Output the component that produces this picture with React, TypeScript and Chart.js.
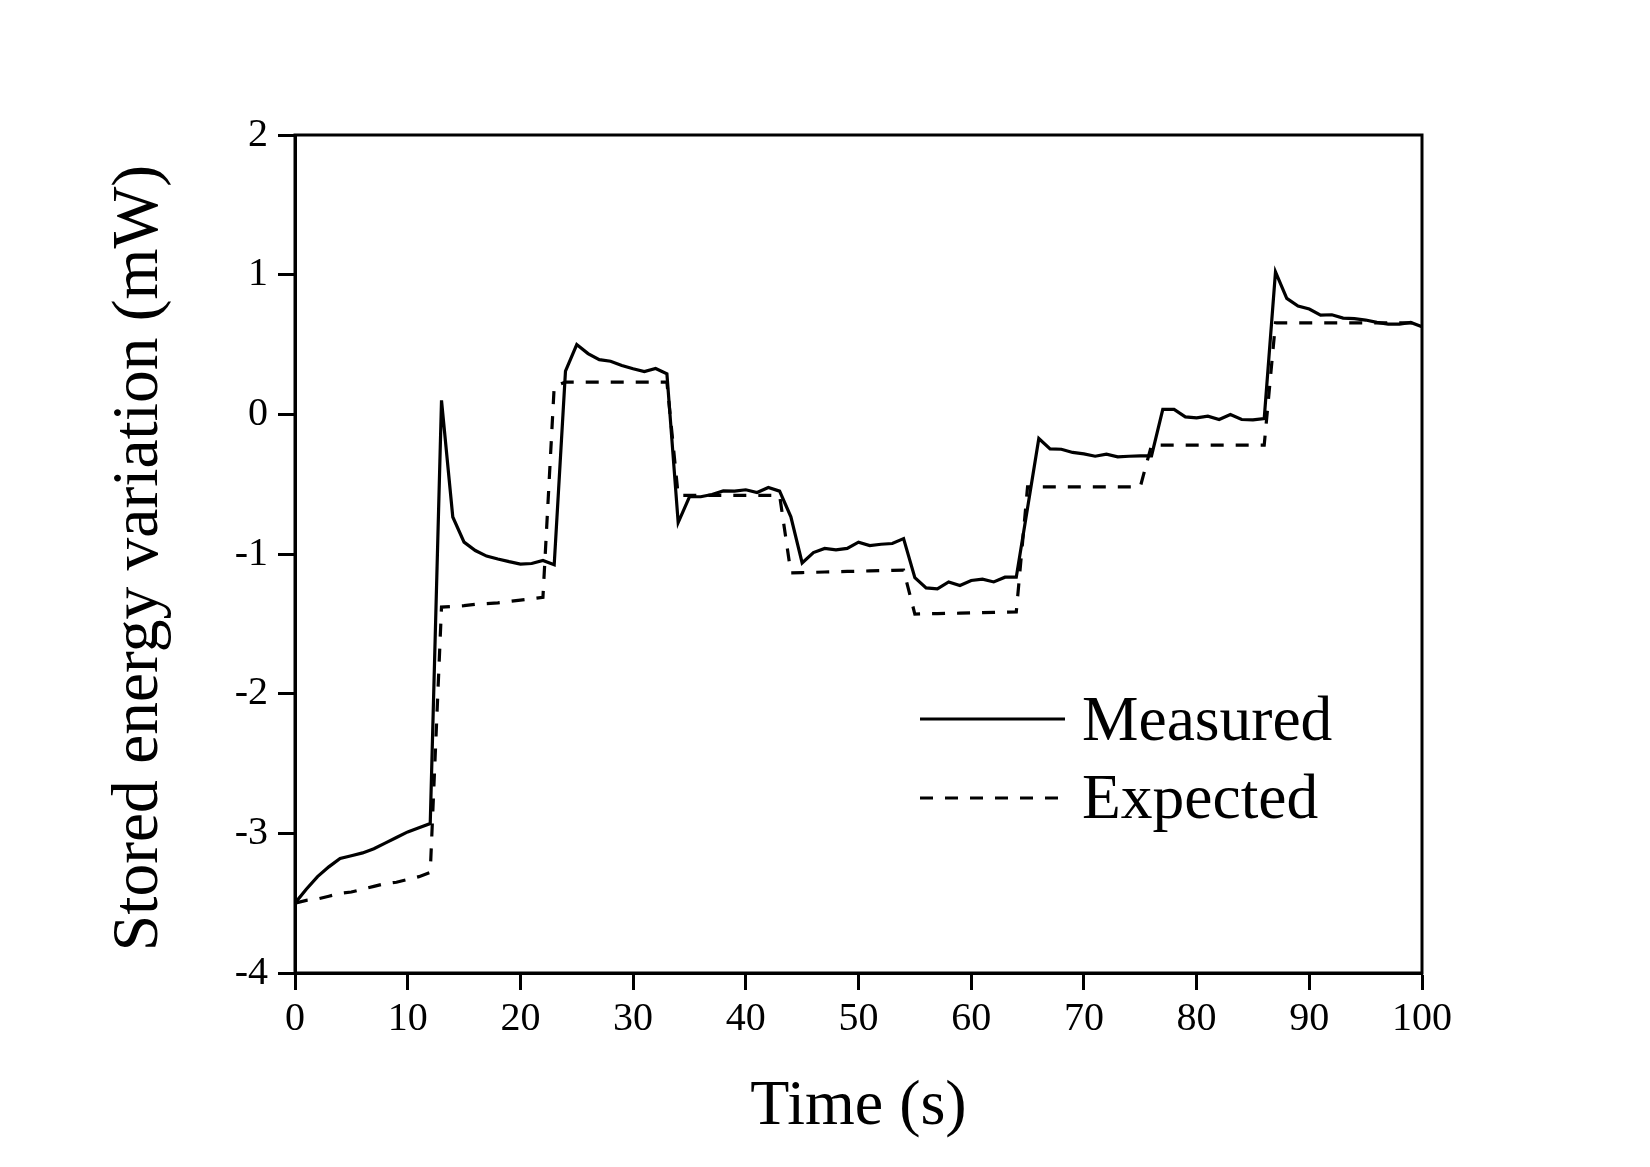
import React, { useEffect, useRef } from "react";
import { Chart, registerables } from "chart.js";

Chart.register(...registerables);

// Sample times (s)
const timeSeconds = [
  0, 1, 2, 3, 4, 5, 6, 7, 8, 9, 10, 11, 12, 13, 14, 15, 16, 17, 18, 19, 20,
  21, 22, 23, 24, 25, 26, 27, 28, 29, 30, 31, 32, 33, 34, 35, 36, 37, 38, 39, 40,
  41, 42, 43, 44, 45, 46, 47, 48, 49, 50, 51, 52, 53, 54, 55, 56, 57, 58, 59, 60,
  61, 62, 63, 64, 65, 66, 67, 68, 69, 70, 71, 72, 73, 74, 75, 76, 77, 78, 79, 80,
  81, 82, 83, 84, 85, 86, 87, 88, 89, 90, 91, 92, 93, 94, 95, 96, 97, 98, 99, 100,
];

// Measured stored energy variation (mW)
const measuredMW = [
  -3.5, -3.4, -3.31, -3.24, -3.18, -3.16, -3.14, -3.11, -3.07, -3.03, -2.99,
  -2.96, -2.93, 0.1, -0.735, -0.915, -0.975, -1.015, -1.036, -1.055, -1.072,
  -1.068, -1.046, -1.077, 0.31, 0.5, 0.435, 0.392, 0.38, 0.35, 0.326,
  0.306, 0.328, 0.29, -0.775, -0.59, -0.59, -0.574, -0.548, -0.55, -0.54,
  -0.56, -0.524, -0.55, -0.734, -1.064, -0.99, -0.96, -0.97, -0.96, -0.915,
  -0.94, -0.93, -0.925, -0.89, -1.17, -1.243, -1.25, -1.2, -1.225, -1.19,
  -1.18, -1.2, -1.166, -1.166, -0.67, -0.173, -0.247, -0.25, -0.273, -0.283,
  -0.3, -0.285, -0.304, -0.3, -0.297, -0.297, 0.035, 0.035, -0.018, -0.025,
  -0.013, -0.037, -0.001, -0.037, -0.04, -0.03, 1.02, 0.83, 0.775, 0.754,
  0.71, 0.713, 0.689, 0.685, 0.675, 0.658, 0.646, 0.646, 0.658, 0.627,
];

// Expected stored energy variation (mW)
const expectedMW = [
  -3.5, -3.48, -3.47, -3.45, -3.43, -3.42, -3.4, -3.38, -3.36, -3.35, -3.33,
  -3.31, -3.28, -1.38, -1.375, -1.37, -1.36, -1.355, -1.35, -1.34, -1.33,
  -1.32, -1.31, 0.2, 0.23, 0.23, 0.23, 0.23, 0.23, 0.23, 0.23,
  0.23, 0.23, 0.23, -0.58, -0.58, -0.58, -0.58, -0.58, -0.58, -0.58,
  -0.58, -0.58, -0.58, -1.135, -1.133, -1.131, -1.129, -1.127, -1.125, -1.123,
  -1.121, -1.119, -1.117, -1.115, -1.43, -1.428, -1.427, -1.425, -1.424, -1.422,
  -1.42, -1.418, -1.417, -1.415, -0.52, -0.52, -0.52, -0.52, -0.52, -0.52,
  -0.52, -0.52, -0.52, -0.52, -0.52, -0.22, -0.22, -0.22, -0.22, -0.22,
  -0.22, -0.22, -0.22, -0.22, -0.22, -0.22, 0.655, 0.655, 0.655, 0.655,
  0.655, 0.655, 0.655, 0.655, 0.655, 0.655, 0.655, 0.655, 0.655, 0.655,
];

const seriesNames = ["Measured", "Expected"];
const xAxisTitle = "Time (s)";
const yAxisTitle = "Stored energy variation (mW)";
const xRange = [0, 100];
const yRange = [-4, 2];
const xStep = 10;
const yStep = 1;

const FONT = '"Liberation Serif", "Times New Roman", serif';
const WIDTH = 1650;
const HEIGHT = 1167;

const framePlugin = {
  id: "frameTitlesLegend",
  afterDraw(chart: any) {
    const { ctx, chartArea: a } = chart;
    ctx.save();
    // box around the plot area
    ctx.strokeStyle = "#000";
    ctx.lineWidth = 3;
    ctx.setLineDash([]);
    ctx.strokeRect(a.left, a.top, a.right - a.left, a.bottom - a.top);

    // axis titles
    ctx.fillStyle = "#000";
    ctx.font = `64px ${FONT}`;
    ctx.textAlign = "center";
    ctx.textBaseline = "alphabetic";
    ctx.fillText(xAxisTitle, (a.left + a.right) / 2, 1124);
    ctx.save();
    ctx.font = `65.5px ${FONT}`;
    ctx.translate(157, (a.top + a.bottom) / 2 + 4);
    ctx.rotate(-Math.PI / 2);
    ctx.fillText(yAxisTitle, 0, 0);
    ctx.restore();

    // legend inside the plot
    const rows = [
      { y: 719, base: 740 },
      { y: 798, base: 818 },
    ];
    chart.data.datasets.forEach((ds: any, i: number) => {
      const r = rows[i];
      ctx.beginPath();
      ctx.lineWidth = ds.borderWidth;
      ctx.strokeStyle = ds.borderColor;
      ctx.setLineDash(ds.borderDash || []);
      ctx.moveTo(920, r.y);
      ctx.lineTo(1065, r.y);
      ctx.stroke();
      ctx.setLineDash([]);
      ctx.font = `63.5px ${FONT}`;
      ctx.textAlign = "left";
      ctx.fillText(ds.label, 1082, r.base);
    });
    ctx.restore();
  },
};

export default function App() {
  const canvasRef = useRef<HTMLCanvasElement | null>(null);

  useEffect(() => {
    const canvas = canvasRef.current;
    if (!canvas) return;
    const toPoints = (vals: number[]) =>
      timeSeconds.map((t, i) => ({ x: t, y: vals[i] }));

    const chart = new Chart(canvas, {
      type: "line",
      data: {
        datasets: [
          {
            label: seriesNames[0],
            data: toPoints(measuredMW),
            borderColor: "#000",
            borderWidth: 3.2,
            pointRadius: 0,
            tension: 0,
            fill: false,
          },
          {
            label: seriesNames[1],
            data: toPoints(expectedMW),
            borderColor: "#000",
            borderWidth: 3.2,
            borderDash: [13, 12],
            pointRadius: 0,
            tension: 0,
            fill: false,
          },
        ],
      },
      options: {
        responsive: false,
        animation: false,
        devicePixelRatio: 1,
        layout: { padding: { left: 0, top: 135, right: WIDTH - 1422, bottom: 0 } },
        plugins: {
          legend: { display: false },
          tooltip: { enabled: false },
        },
        scales: {
          x: {
            type: "linear",
            min: xRange[0],
            max: xRange[1],
            ticks: {
              stepSize: xStep,
              color: "#000",
              font: { family: FONT, size: 40 },
              padding: 5,
              maxRotation: 0,
            },
            grid: {
              drawOnChartArea: false,
              drawTicks: true,
              tickLength: 17,
              tickWidth: 3,
              tickColor: "#000",
            },
            border: { display: true, color: "#000", width: 3 },
            afterFit(scale: any) {
              scale.height = HEIGHT - 973;
            },
          },
          y: {
            type: "linear",
            min: yRange[0],
            max: yRange[1],
            ticks: {
              stepSize: yStep,
              color: "#000",
              font: { family: FONT, size: 40 },
              padding: 10,
            },
            grid: {
              drawOnChartArea: false,
              drawTicks: true,
              tickLength: 17,
              tickWidth: 3,
              tickColor: "#000",
            },
            border: { display: true, color: "#000", width: 3 },
            afterFit(scale: any) {
              scale.width = 295;
            },
          },
        },
      },
      plugins: [framePlugin],
    });
    return () => chart.destroy();
  }, []);

  return (
    <div style={{ position: "absolute", left: 0, top: 0, width: WIDTH, height: HEIGHT, background: "#fff" }}>
      <canvas ref={canvasRef} width={WIDTH} height={HEIGHT} style={{ display: "block" }} />
    </div>
  );
}
